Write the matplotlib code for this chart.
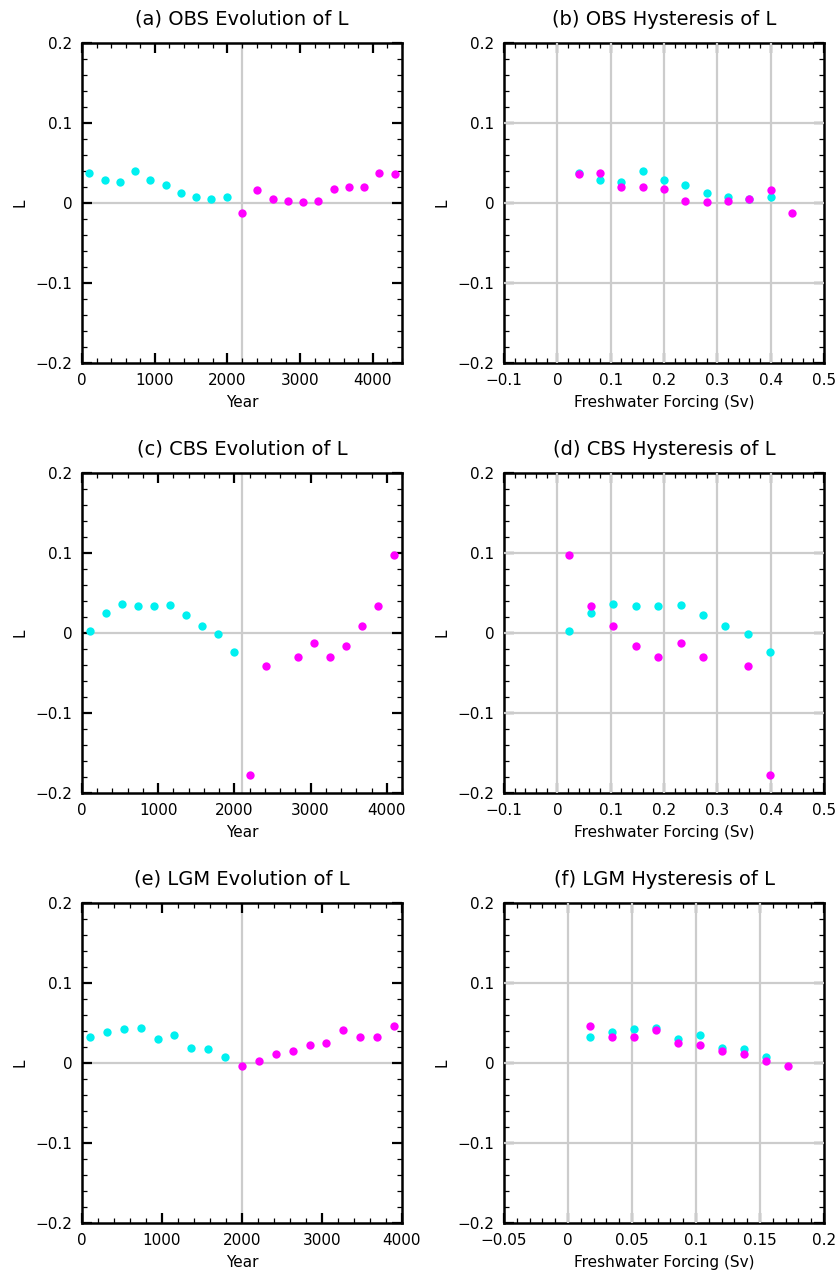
import numpy as np
import matplotlib
matplotlib.use("Agg")
import matplotlib.pyplot as plt
from matplotlib.ticker import MultipleLocator, FuncFormatter

# OBS experiment
obs_cyan_year = [100, 310, 520, 730, 940, 1150, 1360, 1570, 1780, 1990]
obs_cyan_L = [0.037, 0.029, 0.026, 0.040, 0.029, 0.022, 0.012, 0.008, 0.005, 0.007]
obs_cyan_fw = [0.04, 0.08, 0.12, 0.16, 0.20, 0.24, 0.28, 0.32, 0.36, 0.40]
obs_mag_year = [2200, 2410, 2620, 2830, 3040, 3250, 3460, 3670, 3880, 4090, 4300]
obs_mag_L = [-0.013, 0.016, 0.005, 0.003, 0.001, 0.002, 0.017, 0.020, 0.020, 0.037, 0.036]
obs_mag_fw = [0.44, 0.40, 0.36, 0.32, 0.28, 0.24, 0.20, 0.16, 0.12, 0.08, 0.04]

# CBS experiment
cbs_cyan_year = [100, 310, 520, 730, 940, 1150, 1360, 1570, 1780, 1990]
cbs_cyan_L = [0.003, 0.025, 0.036, 0.034, 0.034, 0.035, 0.023, 0.009, -0.001, -0.024]
cbs_cyan_fw = [0.021, 0.063, 0.105, 0.147, 0.189, 0.231, 0.273, 0.315, 0.357, 0.399]
cbs_mag_year = [2200, 2410, 2830, 3040, 3250, 3460, 3670, 3880, 4090]
cbs_mag_L = [-0.178, -0.041, -0.030, -0.013, -0.030, -0.016, 0.009, 0.034, 0.098]
cbs_mag_fw = [0.399, 0.357, 0.273, 0.231, 0.189, 0.147, 0.105, 0.063, 0.021]

# LGM experiment
lgm_cyan_year = [100, 310, 525, 735, 945, 1155, 1365, 1580, 1790]
lgm_cyan_L = [0.0325, 0.039, 0.0425, 0.044, 0.030, 0.035, 0.019, 0.017, 0.007]
lgm_cyan_fw = [0.0172, 0.0344, 0.0516, 0.0688, 0.086, 0.1032, 0.1204, 0.1376, 0.1548]
lgm_mag_year = [2000, 2210, 2425, 2635, 2845, 3055, 3265, 3480, 3690, 3900]
lgm_mag_L = [-0.004, 0.002, 0.011, 0.015, 0.023, 0.025, 0.041, 0.0325, 0.0325, 0.046]
lgm_mag_fw = [0.172, 0.155, 0.1376, 0.1204, 0.1032, 0.086, 0.0688, 0.0516, 0.0344, 0.0172]

CYAN = '#00f0f0'
MAGENTA = '#ff00ff'
GREY = '#cccccc'

plt.rcParams['font.family'] = 'DejaVu Sans'
plt.rcParams['font.size'] = 11

fig = plt.figure(figsize=(8.39, 12.75), dpi=100)

W, H = 839.0, 1275.0
col_left = [82, 504]
row_top = [43, 473, 903]
size = 320


def fmt(v, pos):
    s = '{:g}'.format(round(v, 6))
    if s == '-0':
        s = '0'
    return s.replace('-', '\u2212')


def make_axes(col, row):
    l = col_left[col] / W
    b = (H - row_top[row] - size) / H
    ax = fig.add_axes([l, b, size / W, size / H])
    for sp in ax.spines.values():
        sp.set_linewidth(1.8)
    ax.tick_params(which='both', direction='in', top=True, right=True,
                   labelsize=11, pad=7)
    ax.tick_params(which='major', length=7.5, width=1.6)
    ax.tick_params(which='minor', length=3.8, width=0.9)
    ax.set_ylim(-0.2, 0.2)
    ax.yaxis.set_major_locator(MultipleLocator(0.1))
    ax.yaxis.set_minor_locator(MultipleLocator(0.02))
    ax.xaxis.set_major_formatter(FuncFormatter(fmt))
    ax.yaxis.set_major_formatter(FuncFormatter(fmt))
    ax.set_ylabel('L', fontsize=11, labelpad=6)
    return ax


def points(ax, x1, y1, x2, y2):
    ax.plot(x1, y1, 'o', color=CYAN, ms=6, mew=0, zorder=4, clip_on=False)
    ax.plot(x2, y2, 'o', color=MAGENTA, ms=6, mew=0, zorder=5, clip_on=False)


def evolution(row, title, xmax, vline, cy, cl, my, ml):
    ax = make_axes(0, row)
    ax.set_xlim(0, xmax)
    ax.xaxis.set_major_locator(MultipleLocator(1000))
    ax.xaxis.set_minor_locator(MultipleLocator(200))
    # reference lines sit under the black ticks
    ax.axhline(0, color=GREY, lw=1.6, zorder=1)
    ax.axvline(vline, color=GREY, lw=1.6, zorder=1)
    points(ax, cy, cl, my, ml)
    ax.set_xlabel('Year', fontsize=11, labelpad=5)
    ax.set_title(title, fontsize=14, pad=13)


def hysteresis(row, title, xmin, xmax, major, minor, cf, cl, mf, ml):
    ax = make_axes(1, row)
    ax.set_xlim(xmin, xmax)
    ax.xaxis.set_major_locator(MultipleLocator(major))
    ax.xaxis.set_minor_locator(MultipleLocator(minor))
    # grid lines drawn over the major ticks
    for yv in [-0.1, 0, 0.1]:
        ax.axhline(yv, color=GREY, lw=1.6, zorder=3)
    for xv in np.arange(xmin + major, xmax - major / 2, major):
        ax.axvline(xv, color=GREY, lw=1.6, zorder=3)
    points(ax, cf, cl, mf, ml)
    ax.set_xlabel('Freshwater Forcing (Sv)', fontsize=11, labelpad=5)
    ax.set_title(title, fontsize=14, pad=13)


evolution(0, '(a) OBS Evolution of L', 4400, 2200,
          obs_cyan_year, obs_cyan_L, obs_mag_year, obs_mag_L)
hysteresis(0, '(b) OBS Hysteresis of L', -0.1, 0.5, 0.1, 0.02,
           obs_cyan_fw, obs_cyan_L, obs_mag_fw, obs_mag_L)
evolution(1, '(c) CBS Evolution of L', 4200, 2100,
          cbs_cyan_year, cbs_cyan_L, cbs_mag_year, cbs_mag_L)
hysteresis(1, '(d) CBS Hysteresis of L', -0.1, 0.5, 0.1, 0.02,
           cbs_cyan_fw, cbs_cyan_L, cbs_mag_fw, cbs_mag_L)
evolution(2, '(e) LGM Evolution of L', 4000, 2000,
          lgm_cyan_year, lgm_cyan_L, lgm_mag_year, lgm_mag_L)
hysteresis(2, '(f) LGM Hysteresis of L', -0.05, 0.2, 0.05, 0.01,
           lgm_cyan_fw, lgm_cyan_L, lgm_mag_fw, lgm_mag_L)

fig.savefig('out.png', dpi=100)
